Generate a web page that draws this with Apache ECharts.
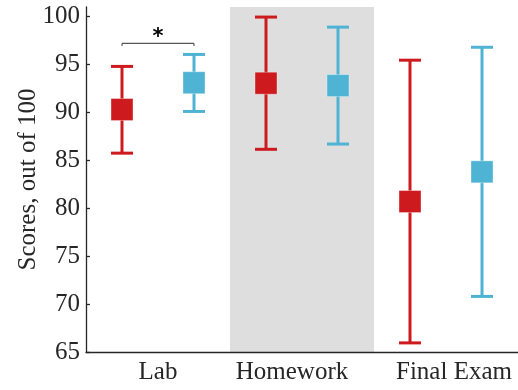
<!DOCTYPE html>
<html><head><meta charset="utf-8">
<script src="https://cdn.jsdelivr.net/npm/echarts@6/dist/echarts.min.js"></script>
<style>html,body{margin:0;padding:0;background:#fff}#c{width:518px;height:390px}</style>
</head><body><div id="c"></div>
<script>
const categories = ['Lab', 'Homework', 'Final Exam'];
const yTicks = [65, 70, 75, 80, 85, 90, 95, 100];
// [mean, low, high]
const groupA = [[90.3, 85.75, 94.8], [93.05, 86.15, 99.95], [80.7, 65.95, 95.45]];
const groupB = [[93.1, 90.1, 96.05], [92.8, 86.7, 98.9], [83.8, 70.8, 96.8]];
const shadedCategory = 'Homework';
const sigBracket = [[0, 97.2, '*']];

const RED = '#cd1a1f', BLUE = '#4fb3d4';
const FONT = 'Liberation Serif';
const TXT = '#262626';

function errRender(offSign, color) {
  return function (params, api) {
    const ci = api.value(0);
    const band = api.size([1, 0])[0];
    const x = api.coord([ci, api.value(1)])[0] + offSign * band / 4;
    const ym = api.coord([ci, api.value(1)])[1];
    const yl = api.coord([ci, api.value(2)])[1];
    const yh = api.coord([ci, api.value(3)])[1];
    const cap = 11, sq = 11;
    const st = {stroke: color, lineWidth: 3};
    return {type: 'group', children: [
      {type: 'line', shape: {x1: x, y1: yl, x2: x, y2: yh}, style: st},
      {type: 'line', shape: {x1: x - cap, y1: yh, x2: x + cap, y2: yh}, style: st},
      {type: 'line', shape: {x1: x - cap, y1: yl, x2: x + cap, y2: yl}, style: st},
      {type: 'rect', shape: {x: x - sq, y: ym - sq, width: 2 * sq, height: 2 * sq},
        style: {fill: color, stroke: 'rgba(255,255,255,0.35)', lineWidth: 1}}
    ]};
  };
}

const labStyle = {color: TXT, fontFamily: FONT, fontSize: 25};
const chart = echarts.init(document.getElementById('c'), null, {renderer: 'canvas'});
chart.setOption({
  animation: false,
  grid: {left: 86, right: 0, top: 7, bottom: 38, containLabel: false},
  xAxis: {
    type: 'category', data: categories, boundaryGap: true,
    axisLine: {lineStyle: {color: TXT, width: 1.3}},
    axisTick: {inside: true, alignWithLabel: true, length: 4, lineStyle: {color: TXT, width: 1.3}},
    axisLabel: {
      color: TXT, fontFamily: FONT, fontSize: 25, margin: 8, interval: 0,
      formatter: function (v, i) { return '{c' + i + '|' + v + '}'; },
      rich: {
        c0: labStyle,
        c1: Object.assign({padding: [0, 20, 0, 0]}, labStyle),
        c2: Object.assign({padding: [0, 0, 0, 16]}, labStyle)
      }
    },
    splitLine: {show: false}
  },
  yAxis: {
    type: 'value', min: 65, max: 101,
    name: 'Scores, out of 100', nameLocation: 'middle', nameGap: 45, nameMoveOverlap: false,
    nameTextStyle: {color: TXT, fontFamily: FONT, fontSize: 25},
    axisLine: {show: true, lineStyle: {color: TXT, width: 1.3}},
    axisTick: {show: true, inside: true, length: 4, customValues: yTicks, lineStyle: {color: TXT, width: 1.3}},
    axisLabel: {color: TXT, fontFamily: FONT, fontSize: 25, margin: 6, customValues: yTicks},
    splitLine: {show: false}
  },
  series: [
    {
      type: 'custom', z: 0, silent: true,
      data: [[categories.indexOf(shadedCategory), 65]],
      encode: {x: 0, y: 1},
      renderItem: function (params, api) {
        const band = api.size([1, 0])[0];
        const cx = api.coord([api.value(0), 65])[0];
        const cs = params.coordSys;
        return {type: 'rect', shape: {x: cx - band / 2, y: cs.y, width: band, height: cs.height},
          style: {fill: '#dedede'}};
      }
    },
    {
      type: 'custom', z: 2, name: 'A',
      data: groupA.map((d, i) => [i, d[0], d[1], d[2]]),
      encode: {x: 0, y: [1, 2, 3]},
      renderItem: errRender(-1, RED)
    },
    {
      type: 'custom', z: 2, name: 'B',
      data: groupB.map((d, i) => [i, d[0], d[1], d[2]]),
      encode: {x: 0, y: [1, 2, 3]},
      renderItem: errRender(1, BLUE)
    },
    {
      type: 'custom', z: 3,
      data: sigBracket,
      encode: {x: 0, y: 1},
      renderItem: function (params, api) {
        const ci = api.value(0);
        const band = api.size([1, 0])[0];
        const p = api.coord([ci, api.value(1)]);
        const x1 = p[0] - band / 4, x2 = p[0] + band / 4, y = p[1];
        const st = {stroke: '#555', lineWidth: 1.2};
        return {type: 'group', children: [
          {type: 'line', shape: {x1: x1, y1: y, x2: x2, y2: y}, style: st},
          {type: 'line', shape: {x1: x1, y1: y, x2: x1, y2: y + 2.5}, style: st},
          {type: 'line', shape: {x1: x2, y1: y, x2: x2, y2: y + 2.5}, style: st},
          {type: 'text', style: {text: sigBracket[params.dataIndex][2], x: p[0], y: y - 6,
            align: 'center', verticalAlign: 'middle', fill: '#000',
            font: 'bold 21px DejaVu Sans'}}
        ]};
      }
    }
  ]
});
</script></body></html>
